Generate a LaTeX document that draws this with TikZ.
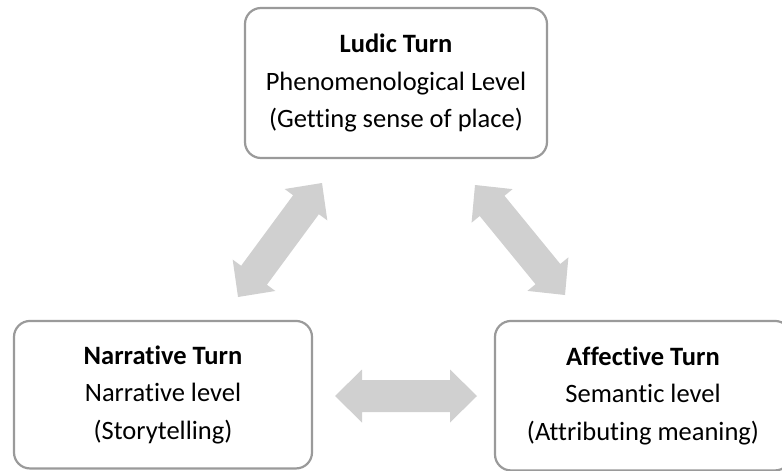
\documentclass[tikz,border=0pt]{standalone}
\usepackage{fontspec}
\setmainfont{Carlito}[Ligatures={NoCommon,NoRequired,NoContextual}]
\usetikzlibrary{calc}
\definecolor{boxline}{HTML}{9A9A9A}
\definecolor{arrowfill}{HTML}{D0D0D0}
\tikzset{
  turnbox/.style={draw=boxline, line width=2.2pt, rounded corners=16pt, inner sep=0pt,
    align=center, font=\fontsize{26.5}{37.5}\selectfont, text=black},
}
\newcommand\blockarrow[2]{%
  \fill[arrowfill]
    (#1)
    -- ($(#1)!27pt!(#2)!26.5pt!90:(#2)$)
    -- ($(#1)!27pt!(#2)!16pt!90:(#2)$)
    -- ($(#2)!27pt!(#1)!16pt!-90:(#1)$)
    -- ($(#2)!27pt!(#1)!26.5pt!-90:(#1)$)
    -- (#2)
    -- ($(#2)!27pt!(#1)!26.5pt!90:(#1)$)
    -- ($(#2)!27pt!(#1)!16pt!90:(#1)$)
    -- ($(#1)!27pt!(#2)!16pt!-90:(#2)$)
    -- ($(#1)!27pt!(#2)!26.5pt!-90:(#2)$)
    -- cycle;}
\begin{document}
\begin{tikzpicture}[x=1pt,y=-1pt]
\useasboundingbox (0,0) rectangle (782,471);
\clip (0,0) rectangle (782,471);
\node[turnbox, minimum width=302pt, minimum height=150pt] (ludic) at (396,83)
  {\textbf{Ludic Turn}\\Phenomenological Level\\(Getting sense of place)};
\node[turnbox, minimum width=298pt, minimum height=147.5pt] (narr) at (163,394.7)
  {\textbf{Narrative Turn}\\Narrative level\\(Storytelling)};
\node[turnbox, minimum width=296pt, minimum height=149.5pt] (aff) at (643,395.7)
  {\textbf{Affective Turn}\\Semantic level\\(Attributing meaning)};
\coordinate (l1) at (238,297);
\coordinate (l2) at (322,183);
\coordinate (r1) at (475,185);
\coordinate (r2) at (565,295);
\coordinate (h1) at (335,396);
\coordinate (h2) at (477,396);
\blockarrow{l1}{l2}
\blockarrow{r1}{r2}
\blockarrow{h1}{h2}
\end{tikzpicture}
\end{document}
